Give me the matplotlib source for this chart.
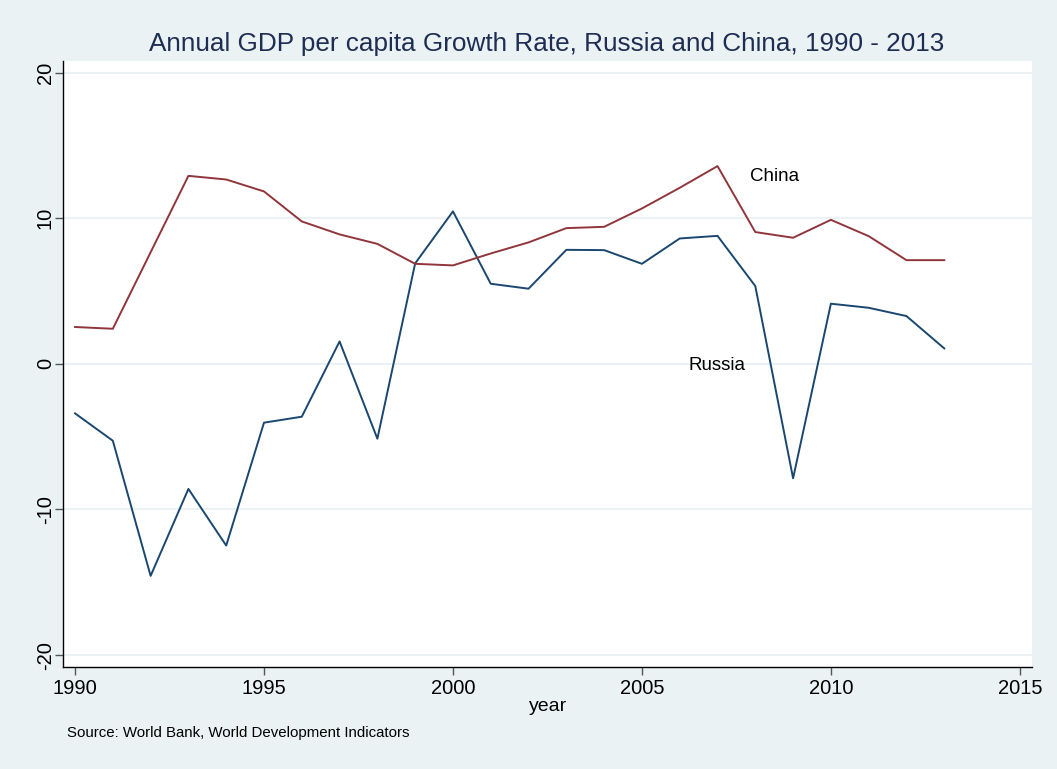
import numpy as np
from matplotlib import pyplot as plt

years = list(range(1990, 2014))
russia = [-3.40, -5.28, -14.56, -8.59, -12.48, -4.04, -3.63, 1.54, -5.14, 6.90,
          10.47, 5.50, 5.16, 7.83, 7.81, 6.87, 8.61, 8.79, 5.34, -7.86,
          4.13, 3.85, 3.28, 1.06]
china = [2.53, 2.41, 7.66, 12.91, 12.66, 11.84, 9.78, 8.89, 8.24, 6.87,
         6.76, 7.58, 8.34, 9.32, 9.41, 10.67, 12.09, 13.58, 9.05, 8.66,
         9.89, 8.77, 7.12, 7.12]
xticks = [1990, 1995, 2000, 2005, 2010, 2015]
yticks = [-20, -10, 0, 10, 20]

bg = "#EAF2F3"
navy = "#1A476F"
maroon = "#90353B"

plt.rcParams['font.family'] = ['Liberation Sans', 'DejaVu Sans']

fig = plt.figure(figsize=(10.57, 7.69), dpi=100, facecolor=bg)
ax = fig.add_axes([0.0599, 0.1330, 0.9164, 0.7881])
ax.set_facecolor("white")

for y in yticks:
    ax.axhline(y, color=bg, lw=1.5, zorder=0)

ax.plot(years, russia, color=navy, lw=1.4)
ax.plot(years, china, color=maroon, lw=1.4)

ax.text(2007.85, 12.9, "China", fontsize=13.5, va="center", ha="left")
ax.text(2006.23, -0.1, "Russia", fontsize=13.5, va="center", ha="left")

ax.set_xlim(1989.69, 2015.32)
ax.set_ylim(-20.8, 20.82)
ax.set_xticks(xticks)
ax.set_yticks(yticks)
ax.set_yticklabels([str(v) for v in yticks], rotation=90, va="center")
ax.tick_params(axis="both", length=6, width=1, color="#555555", labelsize=14.5)
ax.tick_params(axis="y", pad=0)
ax.tick_params(axis="x", pad=3)

for s in ["top", "right"]:
    ax.spines[s].set_visible(False)
for s in ["left", "bottom"]:
    ax.spines[s].set_color("black")
    ax.spines[s].set_linewidth(1.0)

ax.set_xlabel("year", fontsize=14, labelpad=0)
fig.suptitle("Annual GDP per capita Growth Rate, Russia and China, 1990 - 2013",
             x=0.517, y=0.958, fontsize=18.8, color="#1E2D53")
fig.text(0.063, 0.042, "Source: World Bank, World Development Indicators", fontsize=10.8)

plt.savefig("out.png", dpi=100, facecolor=bg)
